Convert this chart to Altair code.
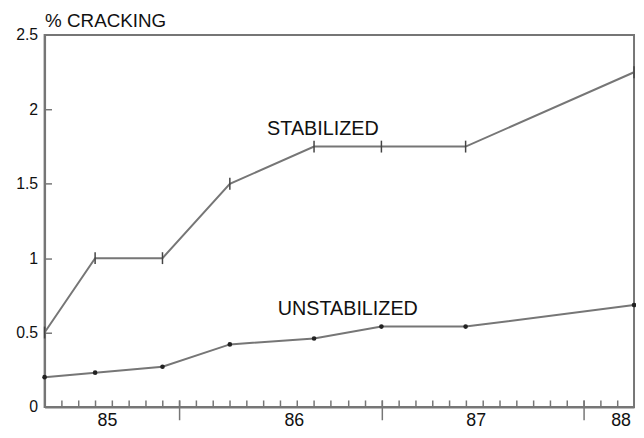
import altair as alt
import pandas as pd

# measurement dates, in months from the left edge of the axis
months = [0, 3, 7, 11, 16, 20, 25, 35]
stabilized = [0.5, 1.0, 1.0, 1.5, 1.75, 1.75, 1.75, 2.25]
unstabilized = [0.20, 0.23, 0.27, 0.42, 0.46, 0.54, 0.54, 0.685]

minor_ticks = list(range(1, 35))
major_ticks = [8, 20, 32]
year_label_pos = [3.7, 14.8, 25.6, 34.2]
year_labels = ["85", "86", "87", "88"]
y_ticks = [0, 0.5, 1, 1.5, 2, 2.5]
y_inner_ticks = [0.5, 1, 1.5, 2]
series_names = ["STABILIZED", "UNSTABILIZED"]

df = pd.DataFrame({
    "month": months + months,
    "value": stabilized + unstabilized,
    "series": [series_names[0]] * len(months) + [series_names[1]] * len(months),
})
stab = df[df.series == series_names[0]]
unst = df[df.series == series_names[1]]

XD = [0, 35]
YD = [0, 2.5]
GRAY = "#767676"
FONT = "Liberation Sans"

# build labelExpr mapping label positions to year labels
expr = f"'{year_labels[-1]}'"
for pos, lab in reversed(list(zip(year_label_pos[:-1], year_labels[:-1]))):
    expr = f"datum.value < {pos + 1} ? '{lab}' : ({expr})"

x_minor = alt.X("month:Q", scale=alt.Scale(domain=XD, nice=False, zero=False),
                axis=alt.Axis(values=minor_ticks, orient="bottom", offset=-7, domain=False,
                              labels=False, tickSize=7, tickColor=GRAY, tickWidth=1.5,
                              grid=False, title=None))
x_major = alt.X("month:Q", scale=alt.Scale(domain=XD, nice=False, zero=False),
                axis=alt.Axis(values=major_ticks, orient="bottom", offset=-7, domain=False,
                              labels=False, tickSize=20, tickColor=GRAY, tickWidth=1.5,
                              grid=False, title=None))
x_labels = alt.X("month:Q", scale=alt.Scale(domain=XD, nice=False, zero=False),
                 axis=alt.Axis(values=year_label_pos, orient="bottom", domain=True,
                               domainColor=GRAY, domainWidth=2, ticks=False, tickSize=0,
                               labelPadding=19, labelBaseline="alphabetic",
                               labelExpr=expr, labelFont=FONT,
                               labelFontSize=18, labelColor="#111", grid=False,
                               title=None, labelOverlap=False))

y_main = alt.Y("value:Q", scale=alt.Scale(domain=YD, nice=False),
               axis=alt.Axis(values=y_ticks, orient="left", domain=True, domainColor=GRAY,
                             domainWidth=2, ticks=False, tickSize=0, labelPadding=7,
                             format="~g", labelFont=FONT, labelFontSize=16,
                             labelColor="#111", grid=False,
                             title="% CRACKING", titleAngle=0, titleX=0, titleY=-9,
                             titleAlign="left", titleBaseline="alphabetic",
                             titleFont=FONT, titleFontSize=19, titleFontWeight="normal",
                             titleColor="#111"))
y_inner = alt.Y("value:Q", scale=alt.Scale(domain=YD, nice=False),
                axis=alt.Axis(values=y_inner_ticks, orient="left", offset=-7, domain=False,
                              labels=False, tickSize=7, tickColor=GRAY, tickWidth=1.5,
                              grid=False, title=None))
x_none = alt.X("month:Q", scale=alt.Scale(domain=XD, nice=False, zero=False), axis=None)
y_none = alt.Y("value:Q", scale=alt.Scale(domain=YD, nice=False), axis=None)

stab_line = alt.Chart(stab).mark_line(color=GRAY, strokeWidth=2).encode(x=x_minor, y=y_main)
stab_marks = alt.Chart(stab).mark_point(shape="M0,-1L0,1", size=144, filled=False,
                                        color="#444", strokeWidth=1.5, opacity=1).encode(
    x=x_major, y=y_inner)
unst_line = alt.Chart(unst).mark_line(color=GRAY, strokeWidth=2).encode(x=x_labels, y=y_none)
unst_dots = alt.Chart(unst).mark_circle(size=22, color="#222", opacity=1).encode(x=x_none, y=y_none)

stab_text = alt.Chart(stab.iloc[[4]]).mark_text(
    align="center", baseline="middle", dx=9, dy=-18, font=FONT, fontSize=20, color="#111"
).encode(x=x_none, y=y_none, text="series:N")
unst_text = alt.Chart(unst.iloc[[5]]).mark_text(
    align="center", baseline="middle", dx=-34, dy=-18, font=FONT, fontSize=20, color="#111"
).encode(x=x_none, y=y_none, text="series:N")

chart = alt.layer(stab_line, stab_marks, unst_line, unst_dots, stab_text, unst_text).resolve_axis(
    x="independent", y="independent"
).properties(
    width=596, height=376,
    autosize=alt.AutoSizeParams(type="none"),
    padding={"left": 37, "top": 25, "right": 2, "bottom": 20},
    background="white",
).configure_view(stroke=GRAY, strokeWidth=2)

chart.save("out.html", embed_options={"renderer": "svg", "actions": False})
